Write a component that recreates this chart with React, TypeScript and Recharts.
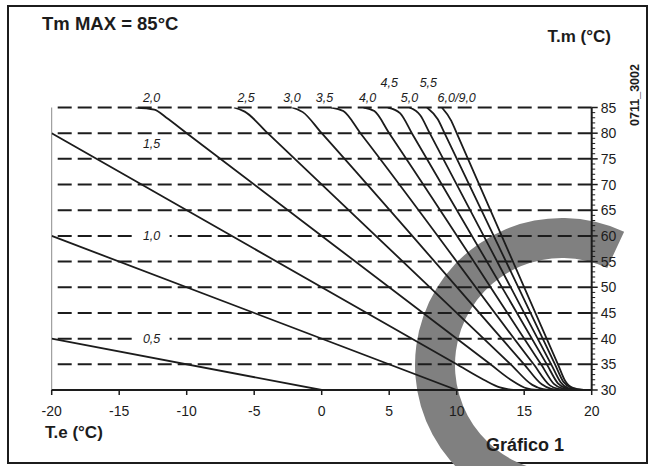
import { LineChart, Line, XAxis, YAxis, ReferenceLine, ReferenceDot, PieChart, Pie } from "recharts";

// Te (outdoor temp, °C) vs Tm (flow temp, °C), one list per curve slope
const curve05 = [{ x: -20, y: 40 }, { x: 0, y: 30 }];
const curve10 = [{ x: -20, y: 60 }, { x: 10, y: 30 }];
const curve15 = [{ x: -20, y: 80 }, { x: 10, y: 35 }, { x: 12, y: 32 }, { x: 13.2, y: 30.5 }, { x: 14.2, y: 30 }];
const curve20 = [{ x: -13.8, y: 85 }, { x: -12.4, y: 84.6 }, { x: -11.5, y: 83 }, { x: -10, y: 80 }, { x: 12.5, y: 35 }, { x: 14, y: 32 }, { x: 15.2, y: 30.3 }, { x: 16, y: 30 }];
const curve25 = [{ x: -6.5, y: 85 }, { x: -5.7, y: 84.2 }, { x: -4, y: 80 }, { x: 14, y: 35 }, { x: 15.6, y: 31 }, { x: 16.4, y: 30.15 }, { x: 17, y: 30 }];
const curve30 = [{ x: -2.2, y: 85 }, { x: -1.4, y: 84.1 }, { x: 0, y: 80 }, { x: 15, y: 35 }, { x: 16.3, y: 31.1 }, { x: 17, y: 30.2 }, { x: 17.6, y: 30 }];
const curve35 = [{ x: 0.7, y: 85 }, { x: 1.6, y: 84.3 }, { x: 2.9, y: 79.9 }, { x: 15.7, y: 35 }, { x: 16.9, y: 30.9 }, { x: 17.5, y: 30.2 }, { x: 18.1, y: 30 }];
const curve40 = [{ x: 3.1, y: 85 }, { x: 3.9, y: 84.3 }, { x: 5, y: 80 }, { x: 16.25, y: 35 }, { x: 17.2, y: 31.2 }, { x: 17.8, y: 30.3 }, { x: 18.4, y: 30 }];
const curve45 = [{ x: 4.9, y: 85 }, { x: 5.8, y: 83.9 }, { x: 6.7, y: 79.9 }, { x: 16.7, y: 34.9 }, { x: 17.5, y: 31.3 }, { x: 18.1, y: 30.3 }, { x: 18.7, y: 30 }];
const curve50 = [{ x: 6.5, y: 85 }, { x: 7.3, y: 83.5 }, { x: 8, y: 80 }, { x: 17, y: 35 }, { x: 17.7, y: 31.5 }, { x: 18.3, y: 30.3 }, { x: 19, y: 30 }];
const curve55 = [{ x: 7.8, y: 85 }, { x: 8.6, y: 82.7 }, { x: 9.1, y: 80 }, { x: 17.3, y: 34.9 }, { x: 17.9, y: 31.6 }, { x: 18.5, y: 30.4 }, { x: 19.2, y: 30 }];
const curve60 = [{ x: 8.9, y: 85 }, { x: 9.6, y: 82.4 }, { x: 10, y: 80 }, { x: 17.5, y: 35 }, { x: 18.05, y: 31.7 }, { x: 18.6, y: 30.4 }, { x: 19.4, y: 30 }];

const curves = [curve05, curve10, curve15, curve20, curve25, curve30, curve35, curve40, curve45, curve50, curve55, curve60];

const xTicks = [-20, -15, -10, -5, 0, 5, 10, 15, 20];
const yMajor = [30, 35, 40, 45, 50, 55, 60, 65, 70, 75, 80, 85];
const yTicks = Array.from({ length: 56 }, (_, i) => 30 + i);
const gridLevels = [35, 40, 45, 50, 55, 60, 65, 70, 75, 80, 85];

const curveLabels = [
  { text: "2,0", te: -12.6, tm: 86.9 },
  { text: "2,5", te: -5.6, tm: 86.9 },
  { text: "3,0", te: -2.2, tm: 86.9 },
  { text: "3,5", te: 0.2, tm: 86.9 },
  { text: "4,0", te: 3.4, tm: 86.9 },
  { text: "5,0", te: 6.5, tm: 86.9 },
  { text: "6,0/9,0", te: 10.0, tm: 86.9 },
  { text: "4,5", te: 5.0, tm: 89.8 },
  { text: "5,5", te: 7.9, tm: 89.8 },
  { text: "1,5", te: -12.6, tm: 78 },
];
const boxedLabels = [
  { text: "1,0", te: -12.6, tm: 60 },
  { text: "0,5", te: -12.6, tm: 40 },
];

const arcData = [{ name: "arc", value: 1 }];

const FONT = "'Liberation Sans', Arial, sans-serif";
const INK = "#1c1c1c";

const YTick = (props: any) => {
  const { x, y, payload } = props;
  const major = yMajor.includes(payload.value);
  return (
    <g>
      <line x1={x} x2={x + (major ? 6 : 3.5)} y1={y} y2={y} stroke={INK} strokeWidth={major ? 1.5 : 1} />
      {major && (
        <text x={x + 9} y={y + 5} fontSize={14} fontFamily={FONT} fill={INK}>
          {payload.value}
        </text>
      )}
    </g>
  );
};

const curveLabel = (text: string, boxed: boolean) => (p: any) => (
  <g>
    {boxed && <rect x={p.cx - 18} y={p.cy - 7} width={36} height={14} fill="#fff" />}
    <text x={p.cx} y={p.cy + 4.5} textAnchor="middle" fontSize={12.5} fontStyle="italic" fontFamily={FONT} fill={INK}>
      {text}
    </text>
  </g>
);

export default function App() {
  return (
    <div style={{ position: "absolute", left: 0, top: 0, width: 651, height: 466, background: "#fff", fontFamily: FONT }}>
      <div
        style={{
          position: "absolute",
          left: 7,
          top: 5,
          width: 641,
          height: 459,
          border: `2.5px solid ${INK}`,
          boxSizing: "border-box",
        }}
      />
      <div style={{ position: "absolute", left: 0, top: 0 }}>
        <PieChart width={651} height={466} margin={{ top: 0, right: 0, bottom: 0, left: 0 }}>
          <Pie
            data={arcData}
            dataKey="value"
            cx={562}
            cy={365}
            innerRadius={107}
            outerRadius={147}
            startAngle={65}
            endAngle={256}
            fill="#808080"
            stroke="none"
            isAnimationActive={false}
          />
        </PieChart>
      </div>
      <div style={{ position: "absolute", left: 0, top: 0 }}>
        <LineChart width={651} height={466} margin={{ top: 107.5, right: 19.3, bottom: 46, left: 51.7 }}>
          <XAxis
            type="number"
            dataKey="x"
            domain={[-20, 20]}
            ticks={xTicks}
            interval={0}
            allowDataOverflow
            height={30}
            tickSize={5}
            tickMargin={11}
            axisLine={{ stroke: INK, strokeWidth: 2 }}
            tickLine={{ stroke: INK, strokeWidth: 1.5 }}
            tick={{ fontSize: 14, fill: INK, fontFamily: FONT }}
          />
          <YAxis
            type="number"
            orientation="right"
            domain={[30, 85]}
            ticks={yTicks}
            interval={0}
            allowDataOverflow
            width={40}
            tickSize={0}
            tickMargin={0}
            tickLine={false}
            axisLine={{ stroke: INK, strokeWidth: 2 }}
            tick={<YTick />}
          />
          <ReferenceLine x={-20} stroke="#8c8c8c" strokeWidth={1} />
          {gridLevels.map((v) => (
            <ReferenceLine key={v} y={v} stroke={INK} strokeWidth={2} strokeDasharray="14 6" />
          ))}
          {curves.map((c, i) => (
            <Line
              key={i}
              data={c}
              dataKey="y"
              type="monotone"
              stroke={INK}
              strokeWidth={1.8}
              dot={false}
              activeDot={false}
              isAnimationActive={false}
            />
          ))}
          {boxedLabels.map((l) => (
            <ReferenceDot key={l.text} x={l.te} y={l.tm} r={0} ifOverflow="visible" shape={curveLabel(l.text, true)} />
          ))}
          {curveLabels.map((l) => (
            <ReferenceDot key={l.text} x={l.te} y={l.tm} r={0} ifOverflow="visible" shape={curveLabel(l.text, false)} />
          ))}
        </LineChart>
      </div>
      <svg width={651} height={466} style={{ position: "absolute", left: 0, top: 0, pointerEvents: "none" }}>
        <text x={42} y={30} fontSize={18.5} fontWeight="bold" fontFamily={FONT} fill={INK}>
          Tm MAX = 85°C
        </text>
        <text x={611} y={42} textAnchor="end" fontSize={17} fontWeight="bold" fontFamily={FONT} fill={INK}>
          T.m (°C)
        </text>
        <text
          x={0}
          y={0}
          transform="translate(639,95) rotate(-90)"
          textAnchor="middle"
          fontSize={12.5}
          fontWeight="bold"
          fontFamily={FONT}
          fill={INK}
        >
          0711_3002
        </text>
        <text x={45} y={437.5} fontSize={17} fontWeight="bold" fontFamily={FONT} fill={INK}>
          T.e (°C)
        </text>
        <text x={486} y={451} fontSize={18} fontWeight="bold" fontFamily={FONT} fill={INK}>
          Gráfico 1
        </text>
      </svg>
    </div>
  );
}
